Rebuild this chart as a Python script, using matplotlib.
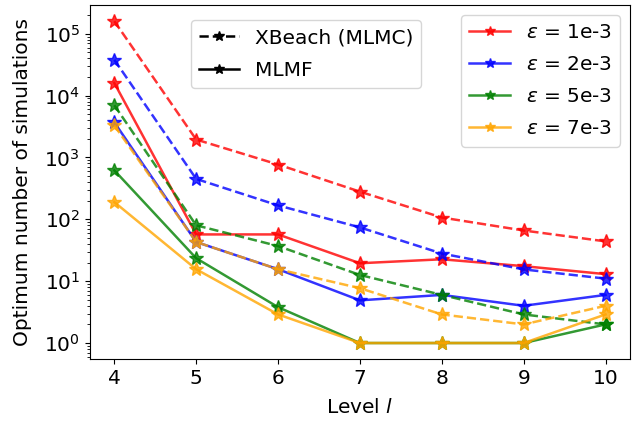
import numpy as np
import matplotlib
matplotlib.use("Agg")
import matplotlib.pyplot as plt
from matplotlib.lines import Line2D

# ── Data ─────────────────────────────────────────────────────────────────────
levels = [4, 5, 6, 7, 8, 9, 10]
eps_labels = ["1e-3", "2e-3", "5e-3", "7e-3"]
colors = ["red", "blue", "green", "orange"]

# XBeach (MLMC), dashed
xbeach_1e3 = [1.6e5, 1950, 770, 280, 107, 66, 44]
xbeach_2e3 = [3.8e4, 450, 168, 74, 28, 15.5, 11]
xbeach_5e3 = [7000, 80, 37, 12.6, 6, 2.9, 2.0]
xbeach_7e3 = [3300, 43, 15.6, 7.7, 2.9, 2.0, 4.0]

# MLMF, solid
mlmf_1e3 = [1.6e4, 57, 57, 19.5, 22.6, 17.5, 13]
mlmf_2e3 = [3700, 43, 15.6, 4.9, 6, 4, 6]
mlmf_5e3 = [620, 23.5, 3.8, 1, 1, 1, 2]
mlmf_7e3 = [190, 15.6, 2.9, 1, 1, 1, 2.9]

xbeach = [xbeach_1e3, xbeach_2e3, xbeach_5e3, xbeach_7e3]
mlmf = [mlmf_1e3, mlmf_2e3, mlmf_5e3, mlmf_7e3]

plt.rcParams["font.size"] = 14.5

fig, ax = plt.subplots(figsize=(6.32, 4.22), dpi=100)
fig.subplots_adjust(left=0.142, right=0.997, top=0.988, bottom=0.149)

for c, xb, ml in zip(colors, xbeach, mlmf):
    ax.plot(levels, xb, "--", marker="*", color=c, lw=1.8, markersize=10, alpha=0.8)
    ax.plot(levels, ml, "-", marker="*", color=c, lw=1.8, markersize=10, alpha=0.8)

ax.set_yscale("log")
ax.set_xlabel("Level $l$", labelpad=7)
ax.set_ylabel("Optimum number of simulations", labelpad=9)

# legend 1: line styles
style_handles = [
    Line2D([], [], color="black", linestyle="--", marker="*", lw=1.8,
           markersize=7, label="XBeach (MLMC)"),
    Line2D([], [], color="black", linestyle="-", marker="*", lw=1.8,
           markersize=7, label="MLMF"),
]
leg1 = ax.legend(handles=style_handles, loc="upper left",
                 bbox_to_anchor=(0.168, 0.985), labelspacing=0.65)
ax.add_artist(leg1)

# legend 2: tolerances
eps_handles = [
    Line2D([], [], color=c, marker="*", lw=1.8, markersize=7, alpha=0.8,
           label=r"$\varepsilon$ = " + e)
    for c, e in zip(colors, eps_labels)
]
ax.legend(handles=eps_handles, loc="upper right", labelspacing=0.65)

fig.savefig("out.png", dpi=100)
